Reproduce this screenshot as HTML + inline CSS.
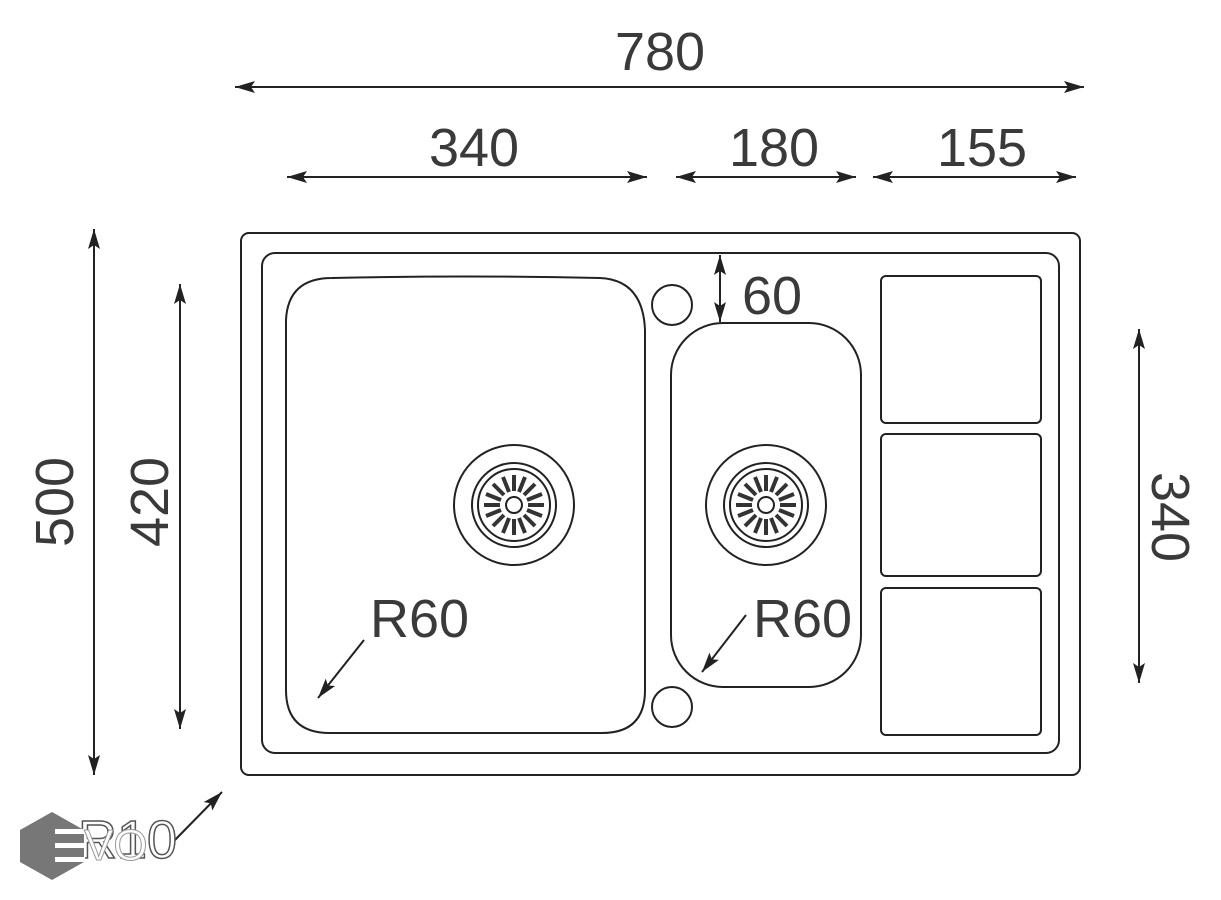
<!DOCTYPE html>
<html><head><meta charset="utf-8"><style>
html,body{margin:0;padding:0;background:#fff;}
svg{display:block;}
text{font-family:"Liberation Sans",sans-serif;fill:#3a3a3a;font-size:54px;}
</style></head><body>
<svg width="1221" height="900" viewBox="0 0 1221 900" xmlns="http://www.w3.org/2000/svg">
<defs>
<marker id="a" viewBox="0 0 20 12" refX="20" refY="6" markerWidth="20" markerHeight="12" markerUnits="userSpaceOnUse" orient="auto-start-reverse">
<path d="M0,0 L20,6 L0,12 L4,6 z" fill="#222"/>
</marker>
</defs>
<g stroke="#222" stroke-width="2" fill="none">
<line x1="235" y1="87" x2="1084" y2="87" marker-start="url(#a)" marker-end="url(#a)"/>
<line x1="287" y1="177" x2="647" y2="177" marker-start="url(#a)" marker-end="url(#a)"/>
<line x1="676" y1="177" x2="856" y2="177" marker-start="url(#a)" marker-end="url(#a)"/>
<line x1="873" y1="177" x2="1076" y2="177" marker-start="url(#a)" marker-end="url(#a)"/>
<line x1="94" y1="229" x2="94" y2="775" marker-start="url(#a)" marker-end="url(#a)"/>
<line x1="180" y1="284" x2="180" y2="729" marker-start="url(#a)" marker-end="url(#a)"/>
<line x1="1139" y1="329" x2="1139" y2="683" marker-start="url(#a)" marker-end="url(#a)"/>
<line x1="720" y1="255" x2="720" y2="322" marker-start="url(#a)" marker-end="url(#a)"/>
<line x1="364" y1="640" x2="318" y2="698" marker-end="url(#a)"/>
<line x1="746" y1="615" x2="702" y2="672" marker-end="url(#a)"/>
<line x1="172" y1="843" x2="222" y2="792" marker-end="url(#a)"/>
<rect x="241" y="233" width="839" height="542" rx="8"/>
<rect x="262" y="253" width="797" height="500" rx="13"/>
<path d="M286,320 Q288,278 332,278 Q465,275 600,278 Q643,280 645,330 L645,690 Q645,733 602,733 L330,733 Q286,733 286,690 Z"/>
<rect x="671" y="323" width="190" height="364" rx="52"/>
<rect x="881" y="276" width="160" height="147" rx="5"/>
<rect x="881" y="434" width="160" height="142" rx="5"/>
<rect x="881" y="588" width="160" height="147" rx="5"/>
<circle cx="672" cy="305" r="20"/>
<circle cx="672" cy="707" r="20"/>
<g id="d">
<circle cx="514" cy="505" r="60"/>
<circle cx="514" cy="505" r="42"/>
<circle cx="514" cy="505" r="36"/>
<circle cx="514" cy="505" r="8"/>
<g stroke-width="4" stroke="#333">
<line x1="514" y1="491" x2="514" y2="475"/><line x1="514" y1="519" x2="514" y2="535"/>
<line x1="500" y1="505" x2="484" y2="505"/><line x1="528" y1="505" x2="544" y2="505"/>
<line x1="504" y1="495" x2="493" y2="484"/><line x1="524" y1="515" x2="535" y2="526"/>
<line x1="524" y1="495" x2="535" y2="484"/><line x1="504" y1="515" x2="493" y2="526"/>
<line x1="509" y1="492" x2="503" y2="477"/><line x1="519" y1="518" x2="525" y2="533"/>
<line x1="519" y1="492" x2="525" y2="477"/><line x1="509" y1="518" x2="503" y2="533"/>
<line x1="501" y1="500" x2="486" y2="494"/><line x1="527" y1="510" x2="542" y2="516"/>
<line x1="527" y1="500" x2="542" y2="494"/><line x1="501" y1="510" x2="486" y2="516"/>
</g>
</g>
<use href="#d" x="252" y="0"/>
</g>
<text x="660" y="70" text-anchor="middle">780</text>
<text x="474" y="166" text-anchor="middle">340</text>
<text x="774" y="166" text-anchor="middle">180</text>
<text x="982" y="166" text-anchor="middle">155</text>
<text x="742" y="314">60</text>
<text x="370" y="637">R60</text>
<text x="753" y="637">R60</text>
<text x="78" y="858" style="fill:#fff;stroke:#555;stroke-width:1.5">R10</text>
<text transform="translate(73,502) rotate(-90)" text-anchor="middle">500</text>
<text transform="translate(168,502) rotate(-90)" text-anchor="middle">420</text>
<text transform="translate(1152,517) rotate(90)" text-anchor="middle">340</text>
<polygon points="52,812 84,830 84,862 52,880 20,862 20,830" fill="#777"/>
<g fill="#fff"><rect x="55" y="829" width="30" height="5"/><rect x="55" y="843" width="30" height="5"/><rect x="55" y="857" width="30" height="5"/></g>
<text x="84" y="860" style="font-size:44px;fill:#fff;stroke:#999;stroke-width:1">VO</text>
</svg>
</body></html>
